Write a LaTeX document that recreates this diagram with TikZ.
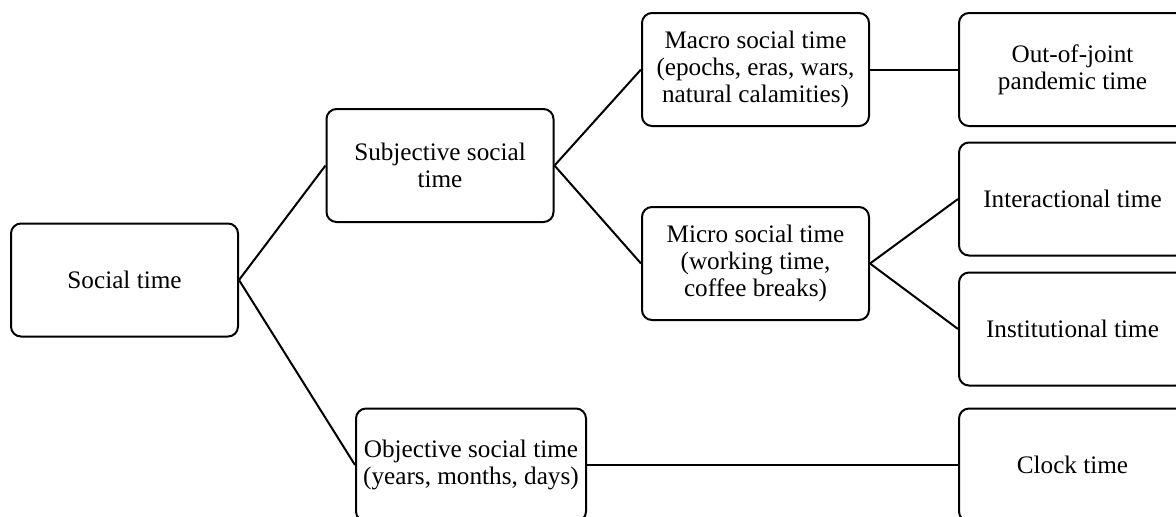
\documentclass[tikz,border=0pt]{standalone}
\usepackage{fontspec}
\setmainfont{Liberation Serif}
\usepackage{tikz}

\begin{document}
\begin{tikzpicture}[x=0.5pt, y=-0.5pt]
    % Define node styles
    \tikzstyle{box} = [rectangle, rounded corners=5pt, draw, line width=1pt, minimum width=113.5pt, minimum height=56.5pt, align=center, font=\fontsize{12.6}{13.4}\selectfont]
    \tikzstyle{link} = [line width=1pt]

    \useasboundingbox (0,0) rectangle (1176,516);

    % Nodes - from social time to its kinds
    \node[box] (social) at (124.5,280) {Social time};
    \node[box] (subj) at (440,165.5) {Subjective social\\time};
    \node[box, minimum width=115pt] (obj) at (471,465) {Objective social time\\(years, months, days)};
    \node[box] (macro) at (755.5,69.5) {Macro social time\\(epochs, eras, wars,\\natural calamities)};
    \node[box] (micro) at (755.5,263.5) {Micro social time\\(working time,\\coffee breaks)};
    \node[box] (outjoint) at (1072.5,69.5) {Out-of-joint\\pandemic time};
    \node[box] (inter) at (1072.5,199) {Interactional time};
    \node[box] (inst) at (1072.5,329) {Institutional time};
    \node[box] (clock) at (1072.5,465) {Clock time};

    % Connectors
    \draw[link] (social.east) -- (subj.west);
    \draw[link] (social.east) -- (obj.west);
    \draw[link] (subj.east) -- (macro.west);
    \draw[link] (subj.east) -- (micro.west);
    \draw[link] (macro.east) -- (outjoint.west);
    \draw[link] (micro.east) -- (inter.west);
    \draw[link] (micro.east) -- (inst.west);
    \draw[link] (obj.east) -- (clock.west);
\end{tikzpicture}
\end{document}
